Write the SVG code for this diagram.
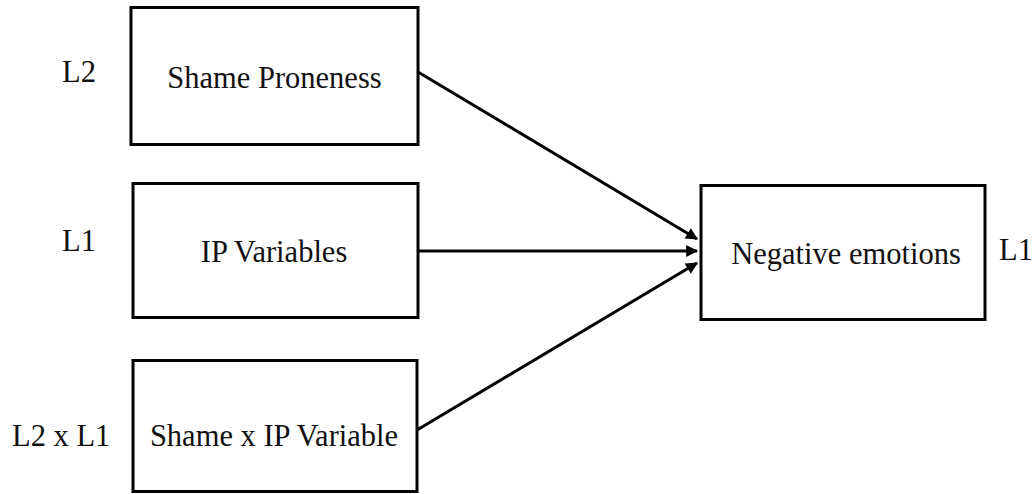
<svg xmlns="http://www.w3.org/2000/svg" width="1036" height="494" viewBox="0 0 1036 494">
<style>
.box{fill:#fff;stroke:#000;stroke-width:3}
.t{font-family:'Liberation Serif','Times New Roman',serif;font-size:30.5px;fill:#111}
.c{stroke:#000;stroke-width:3;fill:none}
</style>
<defs>
<marker id="ah" viewBox="0 0 10 10" refX="9" refY="5" markerWidth="5" markerHeight="4" markerUnits="strokeWidth" orient="auto">
<path d="M0,0 L10,5 L0,10 z" fill="#000"/>
</marker>
</defs>
<rect width="1036" height="494" fill="#fff"/>
<g id="connectors">
<line class="c" x1="418" y1="72" x2="697" y2="239" marker-end="url(#ah)"/>
<line class="c" x1="418" y1="251" x2="697" y2="251" marker-end="url(#ah)"/>
<line class="c" x1="417" y1="430" x2="697" y2="263" marker-end="url(#ah)"/>
</g>
<g id="shame">
<rect class="box" x="131" y="7.5" width="287" height="137"/>
<text class="t" x="274.5" y="88" text-anchor="middle">Shame Proneness</text>
<text class="t" x="62" y="82">L2</text>
</g>
<g id="ip">
<rect class="box" x="133" y="183.5" width="285" height="134"/>
<text class="t" x="274" y="262" text-anchor="middle">IP Variables</text>
<text class="t" x="62" y="251">L1</text>
</g>
<g id="interaction">
<rect class="box" x="133" y="360.5" width="284" height="131"/>
<text class="t" x="274" y="446" text-anchor="middle">Shame x IP Variable</text>
<text class="t" x="12" y="446">L2 x L1</text>
</g>
<g id="negative">
<rect class="box" x="701" y="185.5" width="284" height="134"/>
<text class="t" x="846" y="264" text-anchor="middle">Negative emotions</text>
<text class="t" x="999" y="260">L1</text>
</g>
</svg>
